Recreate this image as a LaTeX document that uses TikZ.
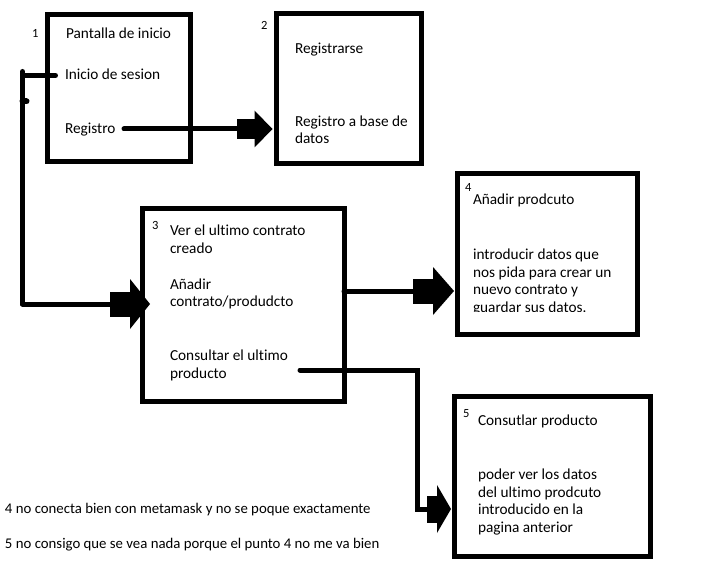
\documentclass[tikz,border=0pt]{standalone}
\usepackage{fontspec}
\setmainfont{Carlito}[Ligatures=NoCommon]
\usetikzlibrary{arrows.meta}
\newcommand{\txtfont}{\fontsize{15.3}{17.7}\selectfont}
\newcommand{\notefont}{\fontsize{14.8}{17.7}\selectfont}
\newcommand{\numfont}{\fontsize{12.5}{14}\selectfont}
\tikzset{
  box/.style={draw, line width=5pt, inner sep=0pt, outer sep=0pt},
  lbl/.style={anchor=base west, inner sep=0pt, outer sep=0pt, font=\txtfont, align=left},
  num/.style={anchor=base west, inner sep=0pt, outer sep=0pt, font=\numfont},
  wire/.style={line width=5pt, line cap=round, line join=miter},
}
\begin{document}
\begin{tikzpicture}[x=1pt,y=-1pt]
\useasboundingbox[fill=white] (0,0) rectangle (720,564);
% boxes
\node[box, minimum width=142.5pt, minimum height=147pt] (b1) at (118.75,88.5) {};
\node[box, minimum width=145pt, minimum height=150pt] (b2) at (348.75,89) {};
\node[box, minimum width=201.5pt, minimum height=192pt] (b3) at (243.25,305) {};
\node[box, minimum width=180pt, minimum height=160pt] (b4) at (547,254) {};
\node[box, minimum width=196pt, minimum height=160pt] (b5) at (552,476) {};
% box 1
\node[num] (n1) at (32,37.5) {1};
\node[lbl] (t1a) at (66,38.5) {Pantalla de inicio};
\node[lbl] (t1b) at (65,79.5) {Inicio de sesion};
\node[lbl] (t1c) at (65,133.5) {Registro};
% box 2
\node[num] (n2) at (261,29.5) {2};
\node[lbl] (t2a) at (295,54) {Registrarse};
\node[lbl, font=\fontsize{15.3}{16.7}\selectfont] (t2b) at (295,143.3) {Registro a base de\\datos};
% box 3
\node[num] (n3) at (152,229.5) {3};
\node[lbl] (t3a) at (170,253.2) {Ver el ultimo contrato\\creado};
\node[lbl] (t3b) at (170,306.7) {Añadir\\contrato/produdcto};
\node[lbl] (t3c) at (170,378.3) {Consultar el ultimo\\producto};
% box 4
\node[num] (n4) at (465,192) {4};
\node[lbl] (t4a) at (473,205) {Añadir prodcuto};
\begin{scope}
\clip (0,0) rectangle (720,311);
\node[lbl] (t4b) at (473,312.4) {introducir datos que\\nos pida para crear un\\nuevo contrato y\\guardar sus datos.};
\end{scope}
% box 5
\node[num] (n5) at (463,417) {5};
\node[lbl] (t5a) at (478,425) {Consutlar producto};
\node[lbl] (t5b) at (478,532.4) {poder ver los datos\\del ultimo prodcuto\\introducido en la\\pagina anterior};
% notes
\node[lbl, font=\notefont] (note1) at (5,513.3) {4 no conecta bien con metamask y no se poque exactamente};
\node[lbl, font=\notefont] (note2) at (5,548.3) {5 no consigo que se vea nada porque el punto 4 no me va bien};
% coordinates
\coordinate (ls) at (55.5,75.5);
\coordinate (lc) at (22.5,75.5);
\coordinate (ltop) at (22.5,71.5);
\coordinate (lbot) at (22.5,304);
\coordinate (tick) at (26.5,101.5);
\coordinate (rs) at (124,129);
\coordinate (cs) at (300,370);
\coordinate (cc1) at (417.5,370);
\coordinate (cc2) at (417.5,509);
% connectors
\draw[wire] (lc) -- (ls);
\draw[wire] (ltop) -- (lbot);
\draw[line width=6pt, line cap=round] (lc |- tick) -- (tick);
\draw[wire, -{Rectangle[length=20pt,width=25pt,line width=0pt]Triangle[length=20pt,width=50pt,line width=0pt]}]
  (lbot) -- (b3.west |- lbot) -- ++(7.5,0);
\draw[wire, -{Rectangle[length=18pt,width=20pt,line width=0pt]Triangle[length=18pt,width=37pt,line width=0pt]}]
  (rs) -- ([xshift=-3.75pt]b2.west |- rs);
\draw[wire, -{Rectangle[length=20pt,width=25pt,line width=0pt]Triangle[length=21pt,width=48pt,line width=0pt]}]
  (b3.east |- 0,291) -- ([xshift=-3pt]b4.west |- 0,291);
\draw[wire, -{Rectangle[length=10pt,width=27pt,line width=0pt]Triangle[length=14pt,width=48pt,line width=0pt]}]
  (cs) -- (cc1) -- (cc2) -- ([xshift=-3pt]b5.west |- cc2);
\end{tikzpicture}
\end{document}
